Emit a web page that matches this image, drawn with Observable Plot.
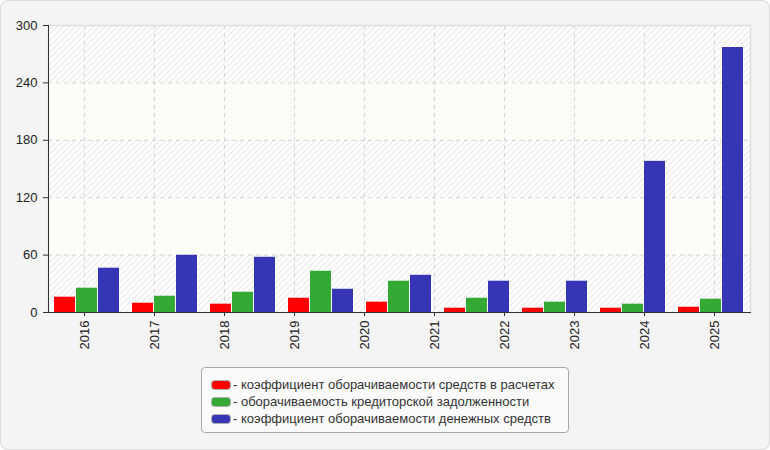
<!DOCTYPE html>
<html><head><meta charset="utf-8">
<script src="https://cdn.jsdelivr.net/npm/d3@7"></script>
<script src="https://cdn.jsdelivr.net/npm/@observablehq/plot@0.6"></script>
<style>
html,body{margin:0;padding:0;background:#fff;}
#wrap{position:relative;width:770px;height:450px;background:#f4f4f4;box-sizing:border-box;border-radius:8px;box-shadow:inset 0 0 0 1px #dcdcdc;font-family:"Liberation Sans",Arial,sans-serif;overflow:hidden}
#wrap svg{position:absolute;left:0;top:0;}
#legend{position:absolute;left:201px;top:367px;width:368px;height:66px;box-sizing:border-box;border:1px solid #aaa;border-radius:4px;background:#fafafa;padding:8px 0 0 10px;font-size:13px;color:#333}
.row{height:17px;line-height:17px;display:flex;align-items:center;white-space:nowrap}
.sw{width:18px;height:8px;border-radius:3px;margin-right:3px;box-shadow:0 0 0 1px rgba(0,0,0,0.3)}
</style>
</head><body>
<div id="wrap"></div>
<script>
// ---- data ----
const years = ["2016","2017","2018","2019","2020","2021","2022","2023","2024","2025"];
const groups = ["1","2","3","4","5","6","7","8","9"];
const seriesNames = [
  "коэффициент оборачиваемости средств в расчетах",
  "оборачиваемость кредиторской задолженности",
  "коэффициент оборачиваемости денежных средств"
];
const colors = ["#ff0000","#34a934","#3535b5"];
const redValues   = [16.0, 9.7, 8.7, 14.9, 10.8, 4.5, 4.5, 4.5, 5.5];
const greenValues = [25.4, 17.0, 21.2, 43.1, 32.7, 14.9, 10.8, 8.7, 13.9];
const blueValues  = [46.3, 59.8, 57.7, 24.3, 38.9, 32.7, 32.7, 158.0, 277.0];
const yTicks = [0, 60, 120, 180, 240, 300];
const hatchBands = [[0,60],[120,180],[240,300]];
const plainBands = [[60,120],[180,240]];

const seriesValues = [redValues, greenValues, blueValues];
const data = groups.flatMap((g, i) => seriesNames.map((s, k) => ({group: g, series: s, value: seriesValues[k][i]})));

const W = 770, H = 360;
const M = {marginLeft: 48, marginRight: 20, marginTop: 25, marginBottom: 48};
const font = '"Liberation Sans", Arial, sans-serif';

const back = Plot.plot({
  width: W, height: H, ...M,
  style: {background: "transparent", fontFamily: font, fontSize: "13px", color: "#222"},
  x: {type: "band", domain: years, padding: 0},
  y: {domain: [0, 300]},
  marks: [
    Plot.rect(hatchBands, {y1: d => d[0], y2: d => d[1], fill: "url(#hatch)"}),
    Plot.rect(plainBands, {y1: d => d[0], y2: d => d[1], fill: "#fdfdf8"}),
    Plot.gridY(yTicks.filter(t => t > 0 && t < 300), {stroke: "#d4d4d4", strokeOpacity: 1, strokeDasharray: "4,4"}),
    Plot.gridX(years, {stroke: "#d4d4d4", strokeOpacity: 1, strokeDasharray: "4,4"}),
    Plot.frame({stroke: "#dedede", strokeWidth: 1.5}),
    Plot.frame({anchor: "left", stroke: "#333"}),
    Plot.frame({anchor: "bottom", stroke: "#333"}),
    Plot.axisY(yTicks, {tickSize: 5, tickPadding: 6, fontSize: 13, label: null, stroke: "#333"}),
    Plot.axisX({tickRotate: -90, tickSize: 4, tickPadding: 4, fontSize: 13, label: null, stroke: "#333"})
  ]
});

const svgb = d3.select(back);
const pat = svgb.insert("defs", ":first-child").append("pattern")
  .attr("id", "hatch").attr("patternUnits", "userSpaceOnUse").attr("width", 6).attr("height", 6);
pat.append("rect").attr("width", 6).attr("height", 6).attr("fill", "#fdfdfd");
pat.append("path").attr("d", "M-1,1 l2,-2 M0,6 l6,-6 M5,7 l2,-2").attr("stroke", "#ececec").attr("stroke-width", 1.2);

const front = Plot.plot({
  width: W, height: H, ...M,
  style: {background: "transparent"},
  fx: {domain: groups, padding: 0, axis: null},
  x: {domain: seriesNames, paddingInner: 0.045, paddingOuter: 0.295, axis: null},
  y: {domain: [0, 300], axis: null},
  color: {domain: seriesNames, range: colors},
  marks: [
    Plot.barY(data, {fx: "group", x: "series", y: "value", fill: "series"})
  ]
});

const wrap = document.getElementById("wrap");
wrap.appendChild(back);
wrap.appendChild(front);

const legend = document.createElement("div");
legend.id = "legend";
seriesNames.forEach((s, k) => {
  const row = document.createElement("div");
  row.className = "row";
  const sw = document.createElement("span");
  sw.className = "sw";
  sw.style.background = colors[k];
  const t = document.createElement("span");
  t.textContent = "- " + s;
  row.appendChild(sw); row.appendChild(t);
  legend.appendChild(row);
});
wrap.appendChild(legend);
</script>
</body></html>
